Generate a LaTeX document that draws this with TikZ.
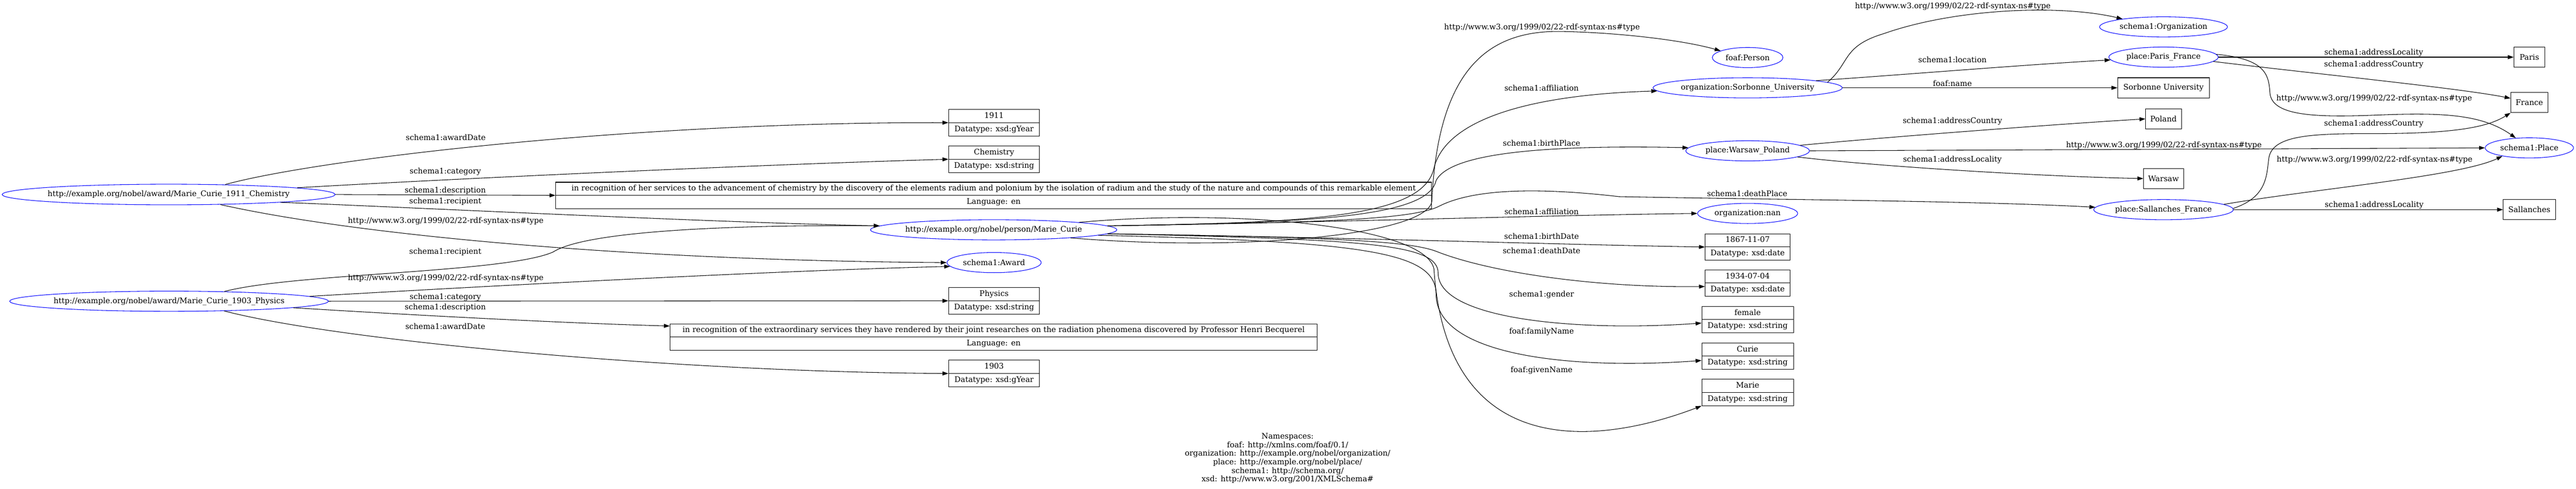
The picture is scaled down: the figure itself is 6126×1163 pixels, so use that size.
\documentclass[tikz,border=0pt]{standalone}
\usepackage{fontspec}
\setmainfont{DejaVu Serif}
\usetikzlibrary{arrows.meta,shapes.geometric,shapes.multipart}
\newcommand{\zw}[1]{\makebox[0pt]{#1}}
\tikzset{
  res/.style={ellipse,draw=blue,line width=1.3pt,inner sep=0pt,minimum height=48pt},
  lit/.style={rectangle split,rectangle split parts=2,draw,line width=1.3pt,
    inner xsep=8pt,inner ysep=6.25pt,text height=13.5pt,text depth=4pt,minimum width=216pt},
  val/.style={draw,line width=1.3pt,inner xsep=8pt,minimum height=48pt},
  lbl/.style={inner sep=0pt},
  rel/.style={->,line width=1.3pt}
}
\begin{document}
\begin{tikzpicture}[x=1pt,y=-1pt,font=\fontsize{18.3}{20.4}\selectfont,
  >={Triangle[length=14pt,width=9.5pt]}]
\useasboundingbox (0,0) rectangle (6126,1163);
% resources
\node[res,minimum width=792pt,minimum height=49pt] (a1911) at (401,463) {\zw{http://example.org/nobel/award/Marie\_Curie\_1911\_Chemistry}};
\node[res,minimum width=758pt] (a1903) at (402,717) {\zw{http://example.org/nobel/award/Marie\_Curie\_1903\_Physics}};
\node[res,minimum width=586pt] (curie) at (2363,547) {\zw{http://example.org/nobel/person/Marie\_Curie}};
\node[res,minimum width=224pt] (award) at (2364,625) {\zw{schema1:Award}};
\node[res,minimum width=168pt] (person) at (4156,137) {\zw{foaf:Person}};
\node[res,minimum width=450pt] (sorbonne) at (4156,209) {\zw{organization:Sorbonne\_University}};
\node[res,minimum width=294pt] (warsaw) at (4156,359) {\zw{place:Warsaw\_Poland}};
\node[res,minimum width=238pt] (orgnan) at (4156,508) {\zw{organization:nan}};
\node[res,minimum width=304pt] (organization) at (5145,64) {\zw{schema1:Organization}};
\node[res,minimum width=260pt] (paris) at (5145,136) {\zw{place:Paris\_France}};
\node[res,minimum width=332pt] (sallanches) at (5145,499) {\zw{place:Sallanches\_France}};
\node[res,minimum width=210pt] (place) at (6015,352) {\zw{schema1:Place}};
% literals
\node[lit] (y1911) at (2364,292) {1911\nodepart{two}Datatype: xsd:gYear};
\node[lit] (chem) at (2364,379) {Chemistry\nodepart{two}Datatype: xsd:string};
\node[lit,minimum width=2083pt] (desc1911) at (2363,465) {in recognition of her services to the advancement of chemistry by the discovery of the elements radium and polonium by the isolation of radium and the study of the nature and compounds of this remarkable element\nodepart{two}Language: en};
\node[lit] (physics) at (2364,716) {Physics\nodepart{two}Datatype: xsd:string};
\node[lit,minimum width=1539pt] (desc1903) at (2363,802) {in recognition of the extraordinary services they have rendered by their joint researches on the radiation phenomena discovered by Professor Henri Becquerel\nodepart{two}Language: en};
\node[lit] (y1903) at (2364,889) {1903\nodepart{two}Datatype: xsd:gYear};
\node[lit,minimum width=202pt] (birth) at (4156,588) {1867-11-07\nodepart{two}Datatype: xsd:date};
\node[lit,minimum width=202pt] (death) at (4156,674) {1934-07-04\nodepart{two}Datatype: xsd:date};
\node[lit,minimum width=218pt] (gender) at (4156,761) {female\nodepart{two}Datatype: xsd:string};
\node[lit,minimum width=218pt] (family) at (4156,848) {Curie\nodepart{two}Datatype: xsd:string};
\node[lit,minimum width=218pt] (given) at (4156,934) {Marie\nodepart{two}Datatype: xsd:string};
\node[val,minimum width=218pt] (sorbname) at (5145,209) {Sorbonne University};
\node[val,minimum width=85pt] (poland) at (5145,283) {Poland};
\node[val,minimum width=95pt] (warsawtxt) at (5145,425) {Warsaw};
\node[val,minimum width=73pt] (paristxt) at (6015,136) {Paris};
\node[val,minimum width=88pt] (france) at (6015,244) {France};
\node[val,minimum width=124pt] (sallanchestxt) at (6015,499) {Sallanches};
% edge labels
\node[lbl] (lAwardDate1) at (1060,327) {schema1:awardDate};
\node[lbl] (lCategory1) at (1059,409) {schema1:category};
\node[lbl] (lDesc1) at (1059,454) {schema1:description};
\node[lbl] (lRecip1) at (1059,480) {schema1:recipient};
\node[lbl] (lType1) at (1060,526) {http://www.w3.org/1999/02/22-rdf-syntax-ns\#type};
\node[lbl] (lRecip2) at (1059,600) {schema1:recipient};
\node[lbl] (lType2) at (1060,662) {http://www.w3.org/1999/02/22-rdf-syntax-ns\#type};
\node[lbl] (lCategory2) at (1059,707) {schema1:category};
\node[lbl] (lDesc2) at (1059,732) {schema1:description};
\node[lbl] (lAwardDate2) at (1059,777) {schema1:awardDate};
\node[lbl] (lPerson) at (3667,65) {http://www.w3.org/1999/02/22-rdf-syntax-ns\#type};
\node[lbl] (lAffil1) at (3666,209) {schema1:affiliation};
\node[lbl] (lBirthPlace) at (3666,340) {schema1:birthPlace};
\node[lbl] (lDeathPlace) at (4155,460) {schema1:deathPlace};
\node[lbl] (lAffil2) at (3666,504) {schema1:affiliation};
\node[lbl] (lBirthDate) at (3666,562) {schema1:birthDate};
\node[lbl] (lDeathDate) at (3666,597) {schema1:deathDate};
\node[lbl] (lGender) at (3666,701) {schema1:gender};
\node[lbl] (lFamily) at (3666,790) {foaf:familyName};
\node[lbl] (lGiven) at (3666,881) {foaf:givenName};
\node[lbl] (lOrgType) at (4644,15) {http://www.w3.org/1999/02/22-rdf-syntax-ns\#type};
\node[lbl] (lLocation) at (4643,142) {schema1:location};
\node[lbl] (lName) at (4643,198) {foaf:name};
\node[lbl] (lPolCountry) at (4643,288) {schema1:addressCountry};
\node[lbl] (lWarType) at (5146,346) {http://www.w3.org/1999/02/22-rdf-syntax-ns\#type};
\node[lbl] (lWarLocality) at (4643,380) {schema1:addressLocality};
\node[lbl] (lParLocality) at (5645,125) {schema1:addressLocality};
\node[lbl] (lParCountry) at (5645,154) {schema1:addressCountry};
\node[lbl] (lParType) at (5646,234) {http://www.w3.org/1999/02/22-rdf-syntax-ns\#type};
\node[lbl] (lSalCountry) at (5645,295) {schema1:addressCountry};
\node[lbl] (lSalType) at (5647,381) {http://www.w3.org/1999/02/22-rdf-syntax-ns\#type};
\node[lbl] (lSalLocality) at (5646,488) {schema1:addressLocality};
\node[align=center] (ns) at (3062,1091) {Namespaces:\\foaf: http://xmlns.com/foaf/0.1/\\organization: http://example.org/nobel/organization/\\place: http://example.org/nobel/place/\\schema1: http://schema.org/\\xsd: http://www.w3.org/2001/XMLSchema\#};
% award 1911
\draw[rel] (a1911.10) .. controls (750,380) and (1500,290) .. (y1911.west);
\draw[rel] (a1911.3.4) .. controls (900,435) and (1700,395) .. (chem.west);
\draw[rel] (a1911.east) -- (desc1911.west);
\draw[rel] (a1911.-4) .. controls (900,490) and (1700,530) .. (curie.178);
\draw[rel] (a1911.-11.5) .. controls (850,560) and (1500,620) .. (award.180);
% award 1903
\draw[rel] (a1903.10.7) .. controls (700,650) and (1200,650) .. (1315,600) .. controls (1400,545) and (1800,535) .. (curie.178);
\draw[rel] (a1903.2.9) .. controls (1000,690) and (1800,645) .. (award.185);
\draw[rel] (a1903.east) -- (physics.west);
\draw[rel] (a1903.-3.6) .. controls (900,745) and (1300,768) .. ([yshift=26pt]desc1903.west);
\draw[rel] (a1903.-10.3) .. controls (800,810) and (1600,885) .. (y1903.west);
% Marie Curie
\draw[rel] (curie.-6) .. controls (2950,600) and (3390,560) .. (3405,480) .. controls (3420,150) and (3550,70) .. (3720,75) .. controls (3850,78) and (4000,95) .. (person.166);
\draw[rel] (curie.2) .. controls (3100,530) and (3385,520) .. (3410,400) .. controls (3440,280) and (3650,225) .. (sorbonne.182);
\draw[rel] (curie.2) .. controls (3100,530) and (3395,520) .. (3415,430) .. controls (3450,360) and (3700,345) .. (warsaw.177);
\draw[rel] (curie.2) .. controls (3100,530) and (3350,525) .. (3420,492) .. controls (3500,450) and (3650,445) .. (3850,468) .. controls (4200,475) and (4700,478) .. (sallanches.178);
\draw[rel] (curie.2) .. controls (3200,528) and (3700,512) .. (orgnan.west);
\draw[rel] (curie.-2) .. controls (3200,565) and (3700,582) .. (birth.west);
\draw[rel] (curie.-2) .. controls (3200,565) and (3360,575) .. (3420,600) .. controls (3550,650) and (3800,685) .. ([yshift=-8pt]death.west);
\draw[rel] (curie.-2) .. controls (3250,570) and (3420,580) .. (3420,650) .. controls (3420,760) and (3750,790) .. ([yshift=-8pt]gender.west);
\draw[rel] (curie.-3) .. controls (3250,575) and (3415,600) .. (3415,700) .. controls (3415,850) and (3750,880) .. ([yshift=-10pt]family.west);
\draw[rel] (curie.5.6) .. controls (2950,495) and (3390,540) .. (3410,640) .. controls (3440,1100) and (3800,1060) .. (given.south west);
% organizations and places
\draw[rel] (sorbonne.4.5) .. controls (4400,150) and (4380,110) .. (4480,80) .. controls (4650,20) and (4900,10) .. (organization.169);
\draw[rel] (sorbonne.6) .. controls (4500,180) and (4800,155) .. (paris.183);
\draw[rel] (sorbonne.east) -- (sorbname.west);
\draw[rel] (warsaw.6.6) .. controls (4500,325) and (4900,295) .. (poland.west);
\draw[rel] (warsaw.east) -- (place.west);
\draw[rel] (warsaw.-7.7) .. controls (4450,395) and (4850,420) .. (warsawtxt.west);
\draw[rel] (paris.east) -- (paristxt.west);
\draw[rel] (paris.-5) .. controls (5500,175) and (5850,210) .. ([yshift=10pt]france.west);
\draw[rel] (paris.3) .. controls (5390,140) and (5395,180) .. (5398,220) .. controls (5401,275) and (5500,280) .. (5650,274) .. controls (5800,268) and (5900,270) .. (place.144);
\draw[rel] (sallanches.east) -- (sallanchestxt.west);
\draw[rel] (sallanches.5.5) .. controls (5500,450) and (5850,420) .. (place.197);
\draw[rel] (sallanches.1) .. controls (5390,470) and (5390,420) .. (5395,380) .. controls (5400,320) and (5500,318) .. (5650,318) .. controls (5850,318) and (5920,300) .. (france.south west);
\end{tikzpicture}
\end{document}
